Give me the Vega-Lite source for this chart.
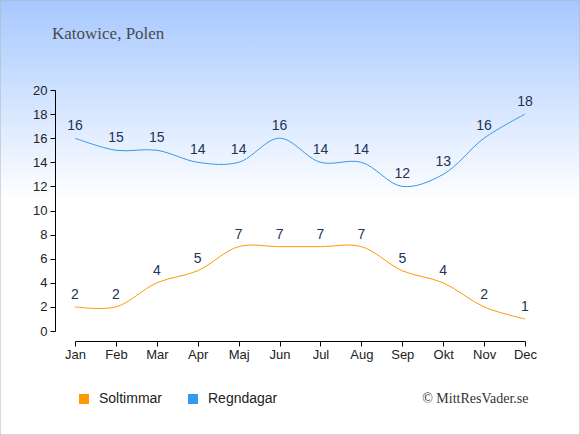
{
  "$schema": "https://vega.github.io/schema/vega-lite/v6.json",
  "width": 580,
  "height": 435,
  "autosize": "none",
  "padding": 0,
  "title": {
    "text": "Katowice, Polen",
    "anchor": "start",
    "frame": "group",
    "orient": "top",
    "offset": 0,
    "baseline": "alphabetic",
    "dx": 52,
    "dy": 56,
    "font": "Liberation Serif",
    "fontSize": 17,
    "fontWeight": "normal",
    "color": "#4a4a4a"
  },
  "data": {
    "values": [
      {"month": "Jan", "serie": "Soltimmar", "value": 2},
      {"month": "Feb", "serie": "Soltimmar", "value": 2},
      {"month": "Mar", "serie": "Soltimmar", "value": 4},
      {"month": "Apr", "serie": "Soltimmar", "value": 5},
      {"month": "Maj", "serie": "Soltimmar", "value": 7},
      {"month": "Jun", "serie": "Soltimmar", "value": 7},
      {"month": "Jul", "serie": "Soltimmar", "value": 7},
      {"month": "Aug", "serie": "Soltimmar", "value": 7},
      {"month": "Sep", "serie": "Soltimmar", "value": 5},
      {"month": "Okt", "serie": "Soltimmar", "value": 4},
      {"month": "Nov", "serie": "Soltimmar", "value": 2},
      {"month": "Dec", "serie": "Soltimmar", "value": 1},
      {"month": "Jan", "serie": "Regndagar", "value": 16},
      {"month": "Feb", "serie": "Regndagar", "value": 15},
      {"month": "Mar", "serie": "Regndagar", "value": 15},
      {"month": "Apr", "serie": "Regndagar", "value": 14},
      {"month": "Maj", "serie": "Regndagar", "value": 14},
      {"month": "Jun", "serie": "Regndagar", "value": 16},
      {"month": "Jul", "serie": "Regndagar", "value": 14},
      {"month": "Aug", "serie": "Regndagar", "value": 14},
      {"month": "Sep", "serie": "Regndagar", "value": 12},
      {"month": "Okt", "serie": "Regndagar", "value": 13},
      {"month": "Nov", "serie": "Regndagar", "value": 16},
      {"month": "Dec", "serie": "Regndagar", "value": 18}
    ]
  },
  "layer": [
    {
      "data": {"values": [{}]},
      "mark": {
        "type": "rect",
        "fill": {
          "gradient": "linear",
          "x1": 0, "y1": 0, "x2": 0, "y2": 1,
          "stops": [
            {"offset": 0, "color": "#a6c8ff"},
            {"offset": 0.46, "color": "#ffffff"},
            {"offset": 1, "color": "#ffffff"}
          ]
        },
        "stroke": "#b4b4b4",
        "strokeWidth": 1
      },
      "encoding": {}
    },
    {
      "mark": {"type": "line", "interpolate": "catmull-rom", "strokeWidth": 1},
      "encoding": {
        "x": {
          "field": "month",
          "type": "ordinal",
          "sort": ["Jan", "Feb", "Mar", "Apr", "Maj", "Jun", "Jul", "Aug", "Sep", "Okt", "Nov", "Dec"],
          "scale": {"type": "point", "range": [75, 525], "padding": 0},
          "axis": {
            "orient": "bottom",
            "offset": -94,
            "zindex": 1,
            "labelAngle": 0,
            "labelFont": "Liberation Sans",
            "labelFontSize": 13,
            "labelColor": "#222222",
            "labelPadding": 2,
            "tickSize": 5,
            "tickColor": "#000000",
            "domainColor": "#000000",
            "title": "© MittResVader.se",
            "titleFont": "Liberation Serif",
            "titleFontSize": 14,
            "titleFontWeight": "normal",
            "titleColor": "#333333",
            "titleAlign": "right",
            "titleBaseline": "alphabetic",
            "titleX": 528,
            "titleY": 61
          }
        },
        "y": {
          "field": "value",
          "type": "quantitative",
          "scale": {"domain": [0, 20], "range": [331, 90], "nice": false},
          "axis": {
            "offset": -55,
            "zindex": 1,
            "values": [0, 2, 4, 6, 8, 10, 12, 14, 16, 18, 20],
            "labelFont": "Liberation Sans",
            "labelFontSize": 13,
            "labelColor": "#222222",
            "labelPadding": 3,
            "tickSize": 5,
            "tickColor": "#000000",
            "domainColor": "#000000",
            "grid": false,
            "title": null
          }
        },
        "color": {
          "field": "serie",
          "type": "nominal",
          "scale": {"domain": ["Soltimmar", "Regndagar"], "range": ["#ff9900", "#3399ee"]},
          "legend": {
            "orient": "none",
            "legendX": 77,
            "legendY": 392,
            "zindex": 1,
            "direction": "horizontal",
            "title": null,
            "padding": 0,
            "symbolType": "square",
            "symbolSize": 100,
            "labelFont": "Liberation Sans",
            "labelFontSize": 14,
            "labelColor": "#222222",
            "labelOffset": 8,
            "columnPadding": 23,
            "encode": {
              "symbols": {
                "update": {
                  "fill": {"scale": "color", "field": "value"},
                  "strokeWidth": {"value": 0}
                }
              }
            }
          }
        }
      }
    },
    {
      "mark": {
        "type": "text",
        "baseline": "alphabetic",
        "dy": -8,
        "font": "Liberation Sans",
        "fontSize": 14,
        "color": "#223355"
      },
      "encoding": {
        "x": {"field": "month", "type": "ordinal", "sort": ["Jan", "Feb", "Mar", "Apr", "Maj", "Jun", "Jul", "Aug", "Sep", "Okt", "Nov", "Dec"]},
        "y": {"field": "value", "type": "quantitative"},
        "text": {"field": "value", "type": "quantitative"}
      }
    }
  ],
  "config": {
    "view": {"stroke": null},
    "axis": {"grid": false}
  }
}
